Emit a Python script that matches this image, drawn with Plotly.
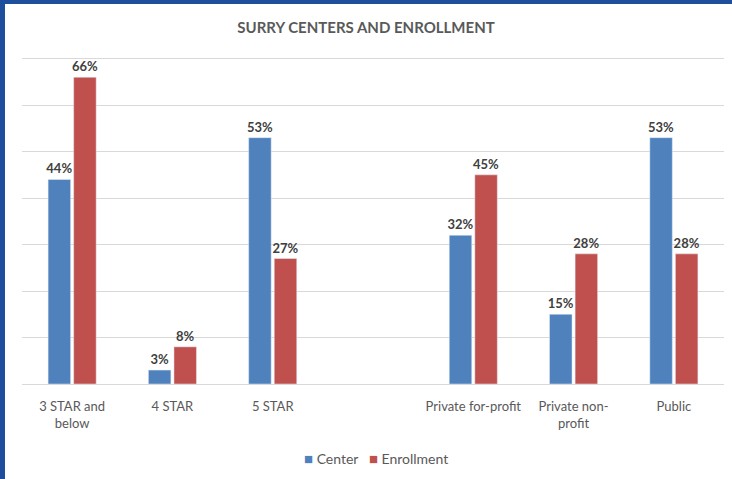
import plotly.graph_objects as go

categories = ["3 STAR and<br>below", "4 STAR", "5 STAR", " ", "Private for-profit", "Private non-<br>profit", "Public"]
series_names = ["Center", "Enrollment"]
center = [44, 3, 53, None, 32, 15, 53]
enrollment = [66, 8, 27, None, 45, 28, 28]
colors = ["#4F81BD", "#C0504D"]

W, H = 732, 479
ml, mr, mt, mb = 22, 8, 54, 95
pw, ph = W - ml - mr, H - mt - mb
FONT = "Lato, Open Sans, sans-serif"

def lbl(vals):
    return [f"{v}%" if v is not None else "" for v in vals]

fig = go.Figure()
for name, vals, col in zip(series_names, [center, enrollment], colors):
    fig.add_bar(name=name, x=categories, y=vals, marker_color=col,
                text=lbl(vals), textposition="outside", cliponaxis=False,
                textfont=dict(size=13, color="#404040", family=FONT, weight="bold"))

legend_text = "&nbsp;&nbsp;&nbsp;".join(
    f"<span style='color:{c};font-size:15px'>■</span>&nbsp;{n}" for n, c in zip(series_names, colors))

fig.update_layout(
    width=W, height=H,
    margin=dict(l=ml, r=mr, t=mt, b=mb),
    paper_bgcolor="white", plot_bgcolor="white",
    title=dict(text="<b>SURRY CENTERS AND ENROLLMENT</b>", x=0.5, xanchor="center", y=1 - 28 / H, yanchor="middle",
               font=dict(size=15, color="#595959", family=FONT)),
    barmode="group", bargap=0.49, bargroupgap=0.12,
    font=dict(family=FONT, size=13, color="#595959"),
    showlegend=False,
    uniformtext=dict(minsize=13, mode="show"),
    annotations=[dict(text=legend_text, xref="paper", yref="paper", x=(376 - ml) / pw, y=-(458 - 384) / ph,
                      xanchor="center", yanchor="middle", showarrow=False,
                      font=dict(size=14, color="#595959", family=FONT))],
    shapes=[
        dict(type="rect", xref="paper", yref="paper", x0=-ml / pw, x1=-(ml - 5) / pw, y0=-mb / ph, y1=1 + mt / ph,
             fillcolor="#1F4E9C", line_width=0, layer="above"),
        dict(type="rect", xref="paper", yref="paper", x0=-ml / pw, x1=1 + mr / pw, y0=1 + (mt - 4) / ph, y1=1 + mt / ph,
             fillcolor="#1F4E9C", line_width=0, layer="above"),
    ],
)
fig.update_xaxes(type="category", showline=True, linecolor="#D9D9D9", linewidth=1, ticks="",
                 tickfont=dict(size=13, color="#595959"), showgrid=False, ticklabelstandoff=10)
fig.update_yaxes(range=[0, 71], tickvals=[10, 20, 30, 40, 50, 60, 70], showticklabels=False, showgrid=True,
                 gridcolor="#D9D9D9", gridwidth=1, zeroline=False, ticks="")

fig.write_html("out.html", config={"displayModeBar": False},
               post_script="document.body.style.margin='0';document.body.style.overflow='hidden';")
